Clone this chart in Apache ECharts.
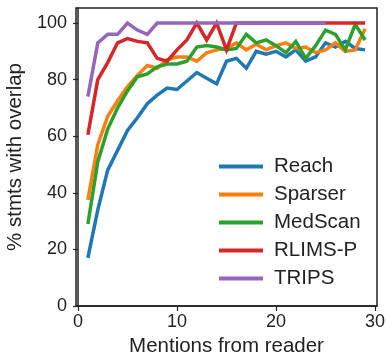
<!DOCTYPE html>
<html>
<head>
<meta charset="utf-8">
<script src="https://cdn.jsdelivr.net/npm/echarts@6/dist/echarts.min.js"></script>
<style>
  html, body { margin: 0; padding: 0; background: #fff; }
  #main { width: 386px; height: 353px; }
</style>
</head>
<body>
<div id="main"></div>
<script>
// mentions from reader, 1..29
const mentions = [1,2,3,4,5,6,7,8,9,10,11,12,13,14,15,16,17,18,19,20,21,22,23,24,25,26,27,28,29];
const reach = [17, 34, 48, 55, 62, 66.5, 71.5, 74.5, 77, 76.5, 79.5, 82.5, 80.5, 78.5, 86.5, 87.5, 84, 90, 89, 90, 88, 90.5, 86.5, 88, 93, 91.5, 93.5, 91, 90.5];
const sparser = [37.5, 57, 67, 72.5, 77.5, 81.5, 85, 84, 87, 88, 88, 86.5, 89.5, 90.5, 91, 93, 90.5, 92.5, 90.5, 92, 93, 91, 91.5, 89.5, 90.5, 93, 90, 90.5, 98];
const medscan = [29, 51, 62.5, 70, 76, 81, 82, 84.5, 85.5, 85.5, 86.5, 91.5, 92, 91.5, 90.5, 91, 96, 93, 94, 92, 89.5, 93.5, 87.5, 92, 97.5, 96, 90.5, 99.5, 94];
const rlimsp = [60.5, 80, 86, 93, 94.5, 93.5, 93, 87.5, 86.5, 90.5, 94, 100, 94, 100, 90.5, 100, 100, 100, 100, 100, 100, 100, 100, 100, 100, 100, 100, 100, 100];
const trips = [74, 93, 96, 96, 100, 97.5, 96, 100, 100, 100, 100, 100, 100, 100, 100, 100, 100, 100, 100, 100, 100, 100, 100, 100, 100];
const xTicks = [0, 10, 20, 30];
const yTicks = [0, 20, 40, 60, 80, 100];

const names = ['Reach', 'Sparser', 'MedScan', 'RLIMS-P', 'TRIPS'];
const colors = ['#1f77b4', '#ff7f0e', '#2ca02c', '#d62728', '#9467bd'];
const values = [reach, sparser, medscan, rlimsp, trips];

const font = 'Liberation Sans, Arial, sans-serif';
const txt = '#222';

let chart = echarts.init(document.getElementById('main'), null, { renderer: 'canvas' });

chart.setOption({
    animation: false,
    color: colors,
    grid: {
        left: 76, top: 8, width: 301, height: 298,
        outerBoundsMode: 'none',
        containLabel: false,
        show: true, borderColor: '#222', borderWidth: 1.5, backgroundColor: 'transparent'
    },
    legend: {
        orient: 'vertical',
        left: 214, top: 151,
        itemWidth: 44, itemHeight: 4,
        itemGap: 7,
        icon: 'rect',
        data: names,
        textStyle: { fontFamily: font, fontSize: 20.5, color: txt, lineHeight: 20, padding: [0, 0, 0, 6] }
    },
    xAxis: {
        type: 'value',
        min: -0.2, max: 30.2,
        name: 'Mentions from reader',
        nameLocation: 'middle',
        nameGap: 28,
        nameTextStyle: { fontFamily: font, fontSize: 20.5, color: txt },
        splitLine: { show: false },
        axisLine: { show: true, lineStyle: { color: '#222', width: 1.5 } },
        axisTick: { show: true, length: 5, customValues: xTicks, lineStyle: { color: '#222', width: 1.2 } },
        axisLabel: { customValues: xTicks, margin: 7, fontFamily: font, fontSize: 18, color: txt }
    },
    yAxis: {
        type: 'value',
        min: 0, max: 105.3,
        name: '% stmts with overlap',
        nameLocation: 'middle',
        nameGap: 34,
        nameTextStyle: { fontFamily: font, fontSize: 20.5, color: txt },
        splitLine: { show: false },
        axisLine: { show: true, lineStyle: { color: '#222', width: 1.5 } },
        axisTick: { show: true, length: 5, customValues: yTicks, lineStyle: { color: '#222', width: 1.2 } },
        axisLabel: { customValues: yTicks, margin: 9, fontFamily: font, fontSize: 18, color: txt }
    },
    series: names.map((n, k) => ({
        name: n,
        type: 'line',
        showSymbol: false,
        symbol: 'none',
        lineStyle: { width: 3.5, color: colors[k], join: 'miter' },
        data: values[k].map((v, i) => [mentions[i], v])
    }))
});
</script>
</body>
</html>
